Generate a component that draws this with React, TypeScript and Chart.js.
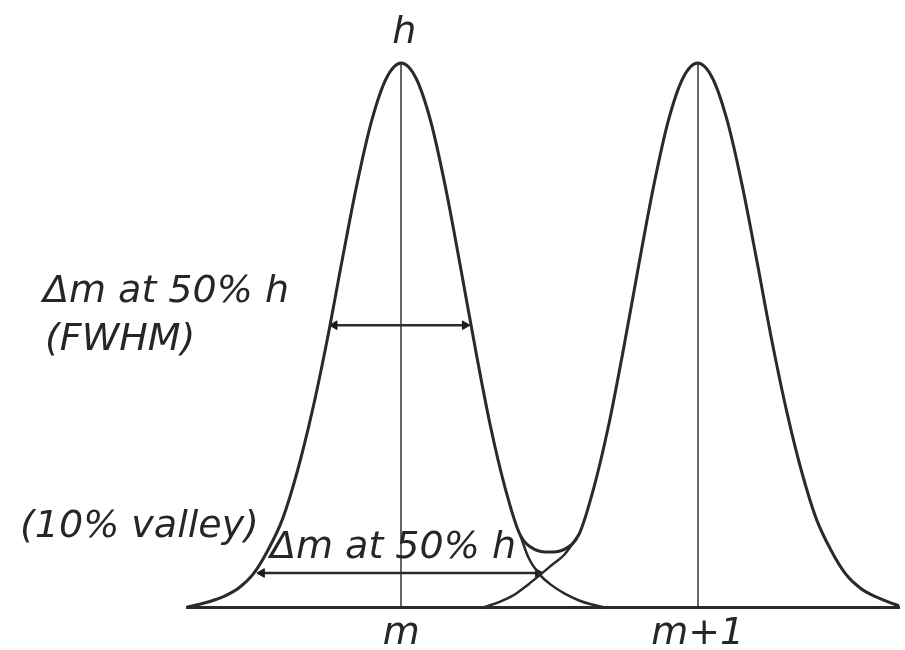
import React, { useEffect, useRef } from "react";
import { Chart, registerables } from "chart.js";

Chart.register(...registerables);

// Mass axis in units of m (m = 0, m+1 = 1); intensity in % of peak height h
const envelopeX = [
  -0.722, -0.68, -0.64, -0.6, -0.55, -0.5, -0.45, -0.4, -0.35, -0.3, -0.25, -0.2, -0.15, -0.1, -0.05, 0,
  0.05, 0.1, 0.15, 0.2, 0.25, 0.3, 0.35, 0.4, 0.45, 0.5, 0.55, 0.6, 0.65, 0.7, 0.75, 0.8, 0.85, 0.9, 0.95, 1.0,
  1.05, 1.1, 1.15, 1.2, 1.25, 1.3, 1.35, 1.4, 1.45, 1.5, 1.55, 1.6, 1.64, 1.679,
];
const envelopeY = [
  0, 0.5, 1.1, 1.9, 3.4, 6.0, 10.4, 16.2, 25.0, 36.0, 49.0, 63.5, 77.5, 89.3, 97.2, 100,
  97.2, 89.2, 77.0, 62.5, 47.5, 33.5, 22.0, 13.4, 10.6, 10.1, 10.6, 13.4, 22.0, 33.5, 47.5, 62.5, 77.0, 89.2, 97.2, 100,
  97.2, 89.3, 77.5, 63.5, 49.0, 36.0, 25.0, 16.2, 10.4, 6.0, 3.4, 1.9, 1.0, 0.2,
];
const leftTailX = [0.4, 0.43, 0.468, 0.5, 0.55, 0.6, 0.64, 0.682];
const leftTailY = [13.4, 9.0, 5.9, 4.3, 2.5, 1.2, 0.5, 0];
const rightTailX = [0.281, 0.33, 0.38, 0.43, 0.468, 0.51, 0.55, 0.6];
const rightTailY = [0, 0.9, 2.2, 4.2, 5.9, 7.8, 9.6, 13.4];

const fwhmArrowX = [-0.225, 0.215];
const fwhmLevel = 51.8;
const baseArrowX = [-0.47, 0.462];
const baseLevel = 6.25;

const tickValues = [0, 1];
const tickLabels = ["m", "m+1"];

const peakLabel = "h";
const fwhmLabel = ["\u0394m at 50% h", "(FWHM)"];
const valleyLabel = "(10% valley)";
const baseLabel = "\u0394m at 50% h";

const pts = (xs: number[], ys: number[]) => xs.map((x, i) => ({ x, y: ys[i] }));
const lvl = (xs: number[], y: number) => xs.map((x) => ({ x, y }));

const FONT = '"DejaVu Sans", sans-serif';
const INK = "#2a2a2a";
const TEXT = "#262626";

const textPlugin = {
  id: "textLabels",
  afterDraw(chart: any) {
    const ctx = chart.ctx;
    const xs = chart.scales.x;
    const ys = chart.scales.y;
    ctx.save();
    ctx.fillStyle = TEXT;
    ctx.font = `italic 38px ${FONT}`;
    ctx.textBaseline = "alphabetic";
    ctx.textAlign = "center";
    ctx.fillText(peakLabel, xs.getPixelForValue(0) + 3, ys.getPixelForValue(100) - 20);
    ctx.textAlign = "left";
    ctx.fillText(fwhmLabel[0], 43, 302);
    ctx.fillText(fwhmLabel[1], 45, 350);
    ctx.fillText(valleyLabel, 20, 537);
    ctx.fillText(baseLabel, 270, 558);
    ctx.restore();
  },
};

export default function App() {
  const ref = useRef<HTMLCanvasElement | null>(null);
  useEffect(() => {
    if (!ref.current) return;
    const curve = {
      borderColor: INK,
      borderWidth: 3,
      pointRadius: 0,
      cubicInterpolationMode: "monotone" as const,
      fill: false,
      clip: false as any,
    };
    const arrow = (data: any[]) => ({
      data,
      borderColor: INK,
      borderWidth: 2.5,
      pointStyle: "triangle",
      pointRadius: 5,
      pointRotation: [270, 90],
      pointBackgroundColor: "#1a1a1a",
      pointBorderColor: "#1a1a1a",
      pointBorderWidth: 1,
      clip: false as any,
    });
    const chart = new Chart(ref.current, {
      type: "line",
      data: {
        datasets: [
          { ...curve, data: pts(envelopeX, envelopeY) },
          { ...curve, data: pts(leftTailX, leftTailY), borderWidth: 2.5 },
          { ...curve, data: pts(rightTailX, rightTailY), borderWidth: 2.5 },
          arrow(lvl(fwhmArrowX, fwhmLevel)),
          arrow(lvl(baseArrowX, baseLevel)),
        ] as any,
      },
      options: {
        animation: false,
        responsive: true,
        maintainAspectRatio: false,
        layout: { padding: { left: 187, right: 0, top: 63, bottom: 0 } },
        plugins: { legend: { display: false }, tooltip: { enabled: false } },
        scales: {
          x: {
            type: "linear",
            min: -0.7224,
            max: 1.6789,
            afterBuildTicks: (s: any) => {
              s.ticks = tickValues.map((v) => ({ value: v }));
            },
            afterFit: (s: any) => {
              s.height = 43;
            },
            ticks: {
              autoSkip: false,
              maxRotation: 0,
              padding: 4,
              color: TEXT,
              font: { family: FONT, size: 38, style: "italic" },
              callback: (v: any) => {
                const i = tickValues.indexOf(Number(v));
                return i >= 0 ? tickLabels[i] : "";
              },
            },
            grid: { color: "#666", lineWidth: 2, drawTicks: false },
            border: { display: true, color: INK, width: 3 },
          },
          y: { display: false, min: 0, max: 100 },
        },
      },
      plugins: [textPlugin],
    });
    return () => chart.destroy();
  }, []);
  return (
    <div style={{ position: "fixed", left: 0, top: 0, width: 905, height: 650, background: "#fff" }}>
      <canvas ref={ref} />
    </div>
  );
}
